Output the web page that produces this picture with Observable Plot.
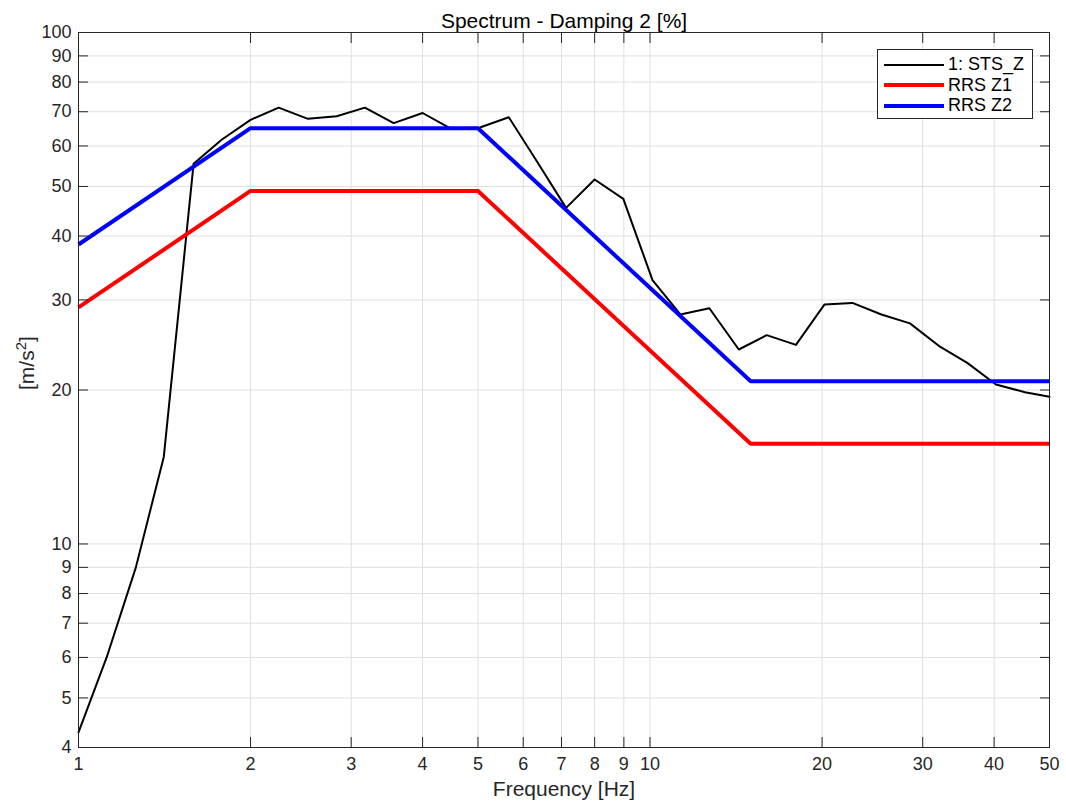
<!DOCTYPE html>
<html>
<head>
<meta charset="utf-8">
<script src="https://cdn.jsdelivr.net/npm/d3@7"></script>
<script src="https://cdn.jsdelivr.net/npm/@observablehq/plot@0.6"></script>
<style>
  body { margin: 0; background: #fff; }
  #chart { position: relative; width: 1066px; height: 802px; font-family: "Liberation Sans", Arial, Helvetica, sans-serif; }
  #legend { position: absolute; left: 877px; top: 49px; width: 154px; height: 68px; border: 1px solid #262626; background: #fff; }
  #legend .row { position: absolute; left: 6px; height: 20px; display: flex; align-items: center; }
  #legend .sw { width: 60px; margin-right: 4px; }
  #legend .lab { font-size: 18px; color: #000; white-space: nowrap; }
</style>
</head>
<body>
<div id="chart"></div>
<script>
// Measured spectrum (1/6-octave frequencies) and required response spectra
const titleText = "Spectrum - Damping 2 [%]";
const xLabel = "Frequency [Hz]";
const yLabel = "[m/s2]";

const freqSTS = [1, 1.12, 1.26, 1.41, 1.59, 1.78, 2, 2.24, 2.52, 2.83, 3.17, 3.56, 4, 4.49, 5.04,
                 5.66, 6.35, 7.13, 8, 8.98, 10.1, 11.3, 12.7, 14.3, 16, 18, 20.2, 22.6, 25.4, 28.5,
                 32, 35.9, 40.3, 45.3, 50];
const accSTS  = [4.28, 6.0, 9.0, 14.8, 55.4, 61.7, 67.5, 71.3, 67.8, 68.6, 71.3, 66.5, 69.6, 64.8, 65.2,
                 68.3, 55.8, 45.4, 51.6, 47.3, 32.8, 28.1, 28.9, 24.0, 25.6, 24.5, 29.4, 29.6, 28.1, 27.0,
                 24.4, 22.6, 20.5, 19.8, 19.4];

const freqRRS = [1, 2, 5, 15, 50];
const accZ1   = [29, 49, 49, 15.7, 15.7];
const accZ2   = [38.5, 65, 65, 20.8, 20.8];

const seriesNames  = ["1: STS_Z", "RRS Z1", "RRS Z2"];
const seriesColors = ["#000000", "#ff0000", "#0000ff"];
const seriesWidths = [2, 4, 4];

const xTicks = [1, 2, 3, 4, 5, 6, 7, 8, 9, 10, 20, 30, 40, 50];
const yTicks = [4, 5, 6, 7, 8, 9, 10, 20, 30, 40, 50, 60, 70, 80, 90, 100];

const sts = freqSTS.map((f, i) => ({f, a: accSTS[i]}));
const z1  = freqRRS.map((f, i) => ({f, a: accZ1[i]}));
const z2  = freqRRS.map((f, i) => ({f, a: accZ2[i]}));

const axisColor = "#262626";
const gridColor = "#dfdfdf";
const font = '"Liberation Sans", Arial, Helvetica, sans-serif';

const chart = Plot.plot({
  width: 1066,
  height: 802,
  marginLeft: 78,
  marginRight: 17,
  marginTop: 32,
  marginBottom: 55,
  style: {fontFamily: font, fontSize: "18px", color: axisColor, background: "#fff"},
  x: {type: "log", domain: [1, 50]},
  y: {type: "log", domain: [4, 100]},
  marks: [
    Plot.gridX(xTicks, {stroke: gridColor, strokeOpacity: 1}),
    Plot.gridY(yTicks, {stroke: gridColor, strokeOpacity: 1}),
    Plot.line(sts, {x: "f", y: "a", stroke: seriesColors[0], strokeWidth: seriesWidths[0]}),
    Plot.line(z1, {x: "f", y: "a", stroke: seriesColors[1], strokeWidth: seriesWidths[1], strokeLinecap: "butt", strokeLinejoin: "miter"}),
    Plot.line(z2, {x: "f", y: "a", stroke: seriesColors[2], strokeWidth: seriesWidths[2], strokeLinecap: "butt", strokeLinejoin: "miter"}),
    Plot.frame({stroke: axisColor}),
    // inward tick marks on all four sides
    Plot.axisX(xTicks, {anchor: "bottom", tickSize: -10, tickFormat: () => "", label: null}),
    Plot.axisX(xTicks, {anchor: "top", tickSize: -10, tickFormat: () => "", label: null}),
    Plot.axisY(yTicks, {anchor: "left", tickSize: -10, tickFormat: () => "", label: null}),
    Plot.axisY(yTicks, {anchor: "right", tickSize: -10, tickFormat: () => "", label: null}),
    // tick labels
    Plot.text(xTicks, {x: d => d, frameAnchor: "bottom", lineAnchor: "top", dy: 10, text: d => String(d), fill: axisColor, fontSize: 18}),
    Plot.text(yTicks, {y: d => d, frameAnchor: "left", textAnchor: "end", lineAnchor: "middle", dx: -7, text: d => String(d), fill: axisColor, fontSize: 18}),
    // titles
    Plot.text([xLabel], {frameAnchor: "bottom", lineAnchor: "bottom", dy: 48, text: d => d, fill: axisColor, fontSize: 21}),
    Plot.text([yLabel], {frameAnchor: "left", lineAnchor: "bottom", rotate: -90, dx: -45, text: d => d, fill: axisColor, fontSize: 21}),
    Plot.text([titleText], {frameAnchor: "top", lineAnchor: "bottom", dy: -5, text: d => d, fill: "#000", fontSize: 21})
  ]
});

// Raised exponent in the unit of the y title
const yl = Array.from(chart.querySelectorAll("text")).find(t => t.textContent === yLabel);
if (yl) {
  const dyBase = yl.getAttribute("dy");
  yl.textContent = "";
  const ns = "http://www.w3.org/2000/svg";
  const t1 = document.createElementNS(ns, "tspan"); t1.textContent = "[m/s";
  const t2 = document.createElementNS(ns, "tspan"); t2.textContent = "2";
  t2.setAttribute("dy", "-8"); t2.setAttribute("font-size", "15");
  const t3 = document.createElementNS(ns, "tspan"); t3.textContent = "]"; t3.setAttribute("dy", "8");
  yl.append(t1, t2, t3);
  if (dyBase) yl.setAttribute("dy", dyBase);
}

const host = document.getElementById("chart");
host.appendChild(chart);

// Legend box
const legend = document.createElement("div");
legend.id = "legend";
const rowTops = [4.5, 25, 45.5];
seriesNames.forEach((name, i) => {
  const row = document.createElement("div");
  row.className = "row";
  row.style.top = rowTops[i] + "px";
  const sw = document.createElement("div");
  sw.className = "sw";
  sw.style.height = seriesWidths[i] + "px";
  sw.style.background = seriesColors[i];
  const lab = document.createElement("span");
  lab.className = "lab";
  lab.textContent = name;
  row.append(sw, lab);
  legend.appendChild(row);
});
host.appendChild(legend);
</script>
</body>
</html>
